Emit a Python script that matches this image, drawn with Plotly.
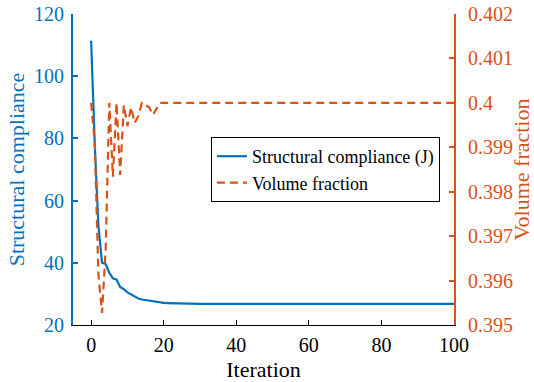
import plotly.graph_objects as go

# ---- data ----
iterations = list(range(0, 101))

compliance_head = [111.4, 78.0, 52.0, 40.0, 39.6, 36.8, 35.0, 34.6, 32.2, 31.5,
                   30.5, 29.8, 29.0, 28.5, 28.2, 28.0, 27.8, 27.6, 27.4, 27.2,
                   27.1, 27.05, 27.0, 26.95, 26.95, 26.92, 26.9, 26.88, 26.86, 26.84]
compliance_tail = [26.8] * 71
compliance = compliance_head + compliance_tail

volume_head = [0.4, 0.3991, 0.39615, 0.39527, 0.3967, 0.4, 0.39834, 0.4, 0.39838, 0.39995,
               0.39948, 0.3999, 0.39955, 0.3997, 0.4, 0.39995, 0.3999, 0.39973, 0.39988, 0.4]
volume_tail = [0.4] * 81
volume = volume_head + volume_tail

x_ticks = [0, 20, 40, 60, 80, 100]
y1_ticks = [20, 40, 60, 80, 100, 120]
y2_ticks = [0.395, 0.396, 0.397, 0.398, 0.399, 0.4, 0.401, 0.402]
y2_ticklabels = ["0.395", "0.396", "0.397", "0.398", "0.399", "0.4", "0.401", "0.402"]

BLUE = "#0072BD"
ORANGE = "#D95319"
FONT = "'Liberation Serif', 'Times New Roman', Times, serif"

fig = go.Figure()
fig.add_trace(go.Scatter(
    x=iterations, y=compliance, mode="lines", name="Structural compliance (J)",
    line=dict(color=BLUE, width=2.2), yaxis="y"))
fig.add_trace(go.Scatter(
    x=iterations, y=volume, mode="lines", name="Volume fraction",
    line=dict(color=ORANGE, width=2.2, dash="8px,5px"), yaxis="y2"))

fig.update_layout(
    template="none",
    width=534, height=382,
    margin=dict(l=73, r=80, t=14, b=57, autoexpand=False),
    paper_bgcolor="white", plot_bgcolor="white",
    font=dict(family=FONT, size=20, color="black"),
    showlegend=True,
    legend=dict(x=0.362, y=0.50, xanchor="left", yanchor="middle",
                bgcolor="white", bordercolor="black", borderwidth=1,
                font=dict(family=FONT, size=18, color="black"),
                tracegroupgap=0, itemwidth=30),
    xaxis=dict(range=[-5, 100], tickvals=x_ticks, ticks="inside", ticklen=5,
               tickwidth=1.3, tickcolor="black", showline=True, linecolor="black",
               linewidth=1.3, showgrid=False, zeroline=False, mirror=False,
               ticklabelstandoff=2, automargin=False,
               tickfont=dict(family=FONT, size=20, color="black"),
               title=dict(text="Iteration", font=dict(family=FONT, size=22, color="black"),
                          standoff=7)),
    yaxis=dict(range=[20, 120], tickvals=y1_ticks, ticks="inside", ticklen=5,
               tickwidth=2, tickcolor=BLUE, showline=True, linecolor=BLUE,
               linewidth=2, showgrid=False, zeroline=False, ticklabelstandoff=3,
               automargin=False,
               tickfont=dict(family=FONT, size=20, color=BLUE),
               title=dict(text="Structural compliance",
                          font=dict(family=FONT, size=22, color=BLUE), standoff=3)),
    yaxis2=dict(range=[0.395, 0.402], tickvals=y2_ticks, ticktext=y2_ticklabels,
                overlaying="y", side="right", ticks="inside", ticklen=5,
                tickwidth=2, tickcolor=ORANGE, showline=True, linecolor=ORANGE,
                linewidth=2, showgrid=False, zeroline=False, ticklabelstandoff=8,
                automargin=False,
                tickfont=dict(family=FONT, size=20, color=ORANGE),
                title=dict(text="Volume fraction",
                           font=dict(family=FONT, size=22, color=ORANGE), standoff=17)),
)

fig.write_html("out.html")
